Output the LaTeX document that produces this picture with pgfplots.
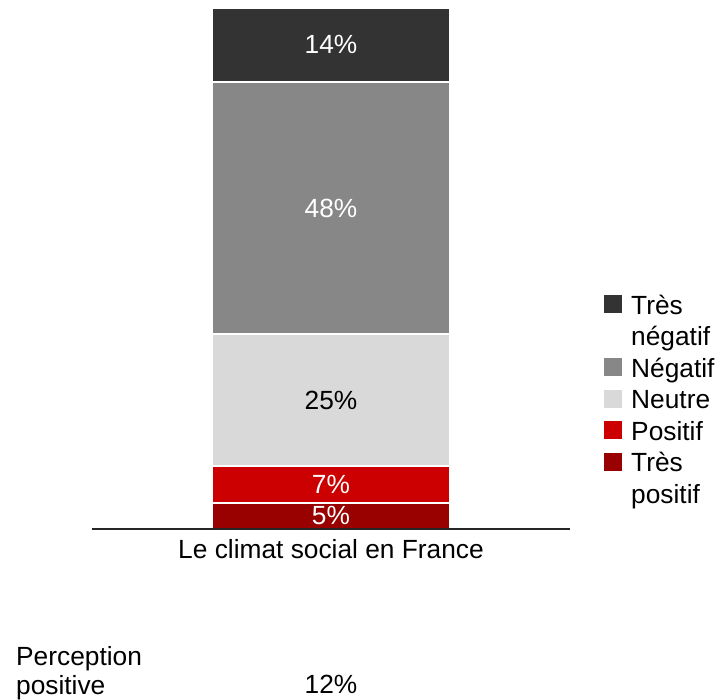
\documentclass[border=0pt]{standalone}
\usepackage{fontspec}
\setmainfont{Liberation Sans}
\usepackage{pgfplots}
\pgfplotsset{compat=1.18}

\definecolor{tresneg}{HTML}{333333}
\definecolor{neg}{HTML}{878787}
\definecolor{neutre}{HTML}{D9D9D9}
\definecolor{pos}{HTML}{CC0000}
\definecolor{trespos}{HTML}{990000}

% fixed row height for the legend lines
\newcommand\lstrut{\rule[-9.5pt]{0pt}{31.5pt}}

\begin{document}
\fontsize{26.3}{31.5}\selectfont
\begin{tikzpicture}[x=1pt,y=1pt]
\path[use as bounding box] (0,0) rectangle (717,700);
\begin{axis}[
    scale only axis,
    width=478pt, height=521pt,
    at={(92pt,171pt)}, anchor=south west,
    ybar stacked,
    bar width=238pt,
    xmin=-1, xmax=1,
    ymin=0, ymax=99,
    axis x line*=bottom,
    hide y axis,
    axis on top,
    x axis line style={line width=1.4pt, color=black!85},
    xtick={0},
    xticklabels={Le climat social en France},
    xtick style={draw=none},
    xticklabel style={inner sep=0pt, anchor=north, yshift=-10pt},
    ytick=\empty,
    reverse legend,
    legend style={
        at={(1.067,0.4549)}, anchor=north west,
        draw=none, fill=none,
        inner sep=0pt, row sep=0pt, column sep=7pt,
        nodes={inner sep=0pt, text depth=9.5pt},
        cells={anchor=base west},
    },
    legend image code/.code={\fill[#1] (0pt,0pt) rectangle (20pt,20pt);},
]
% from bottom to top
\addlegendimage{empty legend}
\addlegendentry{\lstrut positif}
\addplot[fill=trespos, draw=white, line width=2pt] coordinates {(0,5)};
\addlegendentry{\lstrut Très}
\addplot[fill=pos, draw=white, line width=2pt] coordinates {(0,7)};
\addlegendentry{\lstrut Positif}
\addplot[fill=neutre, draw=white, line width=2pt] coordinates {(0,25)};
\addlegendentry{\lstrut Neutre}
\addplot[fill=neg, draw=white, line width=2pt] coordinates {(0,48)};
\addlegendentry{\lstrut Négatif}
\addlegendimage{empty legend}
\addlegendentry{\lstrut négatif}
\addplot[fill=tresneg, draw=white, line width=2pt] coordinates {(0,14)};
\addlegendentry{\lstrut Très}

% segment centres, labelled after the axis so they sit on top
\coordinate (v5)  at (axis cs:0,2.5);
\coordinate (v7)  at (axis cs:0,8.5);
\coordinate (v25) at (axis cs:0,24.5);
\coordinate (v48) at (axis cs:0,61);
\coordinate (v14) at (axis cs:0,92);
\end{axis}
\node[white, inner sep=0pt] at (v5)  {5\%};
\node[white, inner sep=0pt] at (v7)  {7\%};
\node[black, inner sep=0pt] at (v25) {25\%};
\node[white, inner sep=0pt] at (v48) {48\%};
\node[white, inner sep=0pt] at (v14) {14\%};

\node[anchor=base west, inner sep=0pt] at (16,34) {Perception};
\node[anchor=base west, inner sep=0pt] at (16,5.5) {positive};
\node[anchor=base, inner sep=0pt] at (331,6) {12\%};
\end{tikzpicture}
\end{document}
